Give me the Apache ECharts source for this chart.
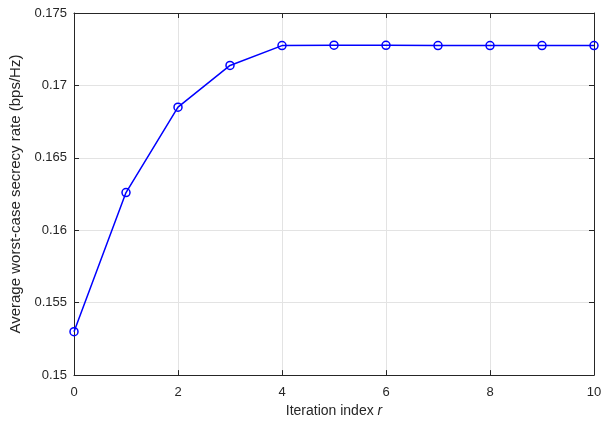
<!DOCTYPE html>
<html><head><meta charset="utf-8">
<script src="https://cdn.jsdelivr.net/npm/echarts@6/dist/echarts.min.js"></script>
<style>html,body{margin:0;padding:0;background:#fff}#c{width:608px;height:423px}</style>
</head><body><div id="c"></div>
<script>
const iterations = [0,1,2,3,4,5,6,7,8,9,10];
const secrecyRate = [0.1530,0.1626,0.1685,0.17138,0.17275,0.17278,0.17277,0.17275,0.17275,0.17275,0.17275];
const xTicks = [0,2,4,6,8,10];
const yTicks = [0.15,0.155,0.16,0.165,0.17,0.175];

const font = 'Liberation Sans, Arial, Helvetica, sans-serif';
const axisCol = '#262626';
const chart = echarts.init(document.getElementById('c'), null, {renderer:'canvas'});
const baseX = {type:'value', min:0, max:10, interval:2,
  axisLine:{show:true, onZero:false, lineStyle:{color:axisCol, width:1}},
  axisTick:{show:true, inside:true, length:5, lineStyle:{color:axisCol}},
  splitLine:{show:false}};
const baseY = {type:'value', min:0.15, max:0.175, interval:0.005,
  axisLine:{show:true, onZero:false, lineStyle:{color:axisCol, width:1}},
  axisTick:{show:true, inside:true, length:5, lineStyle:{color:axisCol}},
  splitLine:{show:false}};
chart.setOption({
  animation:false,
  backgroundColor:'#fff',
  grid:{left:74, right:14, top:13, bottom:44, containLabel:false},
  xAxis:[
    Object.assign({}, baseX, {position:'bottom',
      splitLine:{show:true, lineStyle:{color:'#e3e3e3', width:1}},
      axisLabel:{color:axisCol, fontSize:13, fontFamily:font, margin:11,
        formatter:v => xTicks.includes(v) ? String(v) : ''},
      name:'{n|Iteration index }{i|r}', nameLocation:'middle', nameGap:24,
      nameTextStyle:{rich:{n:{fontSize:14, fontFamily:font, color:axisCol},
                           i:{fontSize:14, fontFamily:font, fontStyle:'italic', color:axisCol}}}}),
    Object.assign({}, baseX, {position:'top', axisLabel:{show:false}})
  ],
  yAxis:[
    Object.assign({}, baseY, {position:'left',
      splitLine:{show:true, lineStyle:{color:'#e3e3e3', width:1}},
      axisLabel:{color:axisCol, fontSize:13, fontFamily:font, margin:7,
        formatter:v => { const t = yTicks.find(k => Math.abs(k-v)<1e-9); return t===undefined ? '' : String(t); }},
      name:'Average worst-case secrecy rate (bps/Hz)', nameLocation:'middle', nameGap:45, nameRotate:90,
      nameTextStyle:{fontSize:15, fontFamily:font, color:axisCol}}),
    Object.assign({}, baseY, {position:'right', axisLabel:{show:false}})
  ],
  series:[{
    type:'line', xAxisIndex:0, yAxisIndex:0,
    data: iterations.map((x,i)=>[x, secrecyRate[i]]),
    symbol:'circle', symbolSize:8, showAllSymbol:true,
    lineStyle:{color:'#0000ff', width:1.5},
    itemStyle:{color:'rgba(0,0,0,0)', borderColor:'#0000ff', borderWidth:1.5},
    clip:false
  }]
});
</script></body></html>
